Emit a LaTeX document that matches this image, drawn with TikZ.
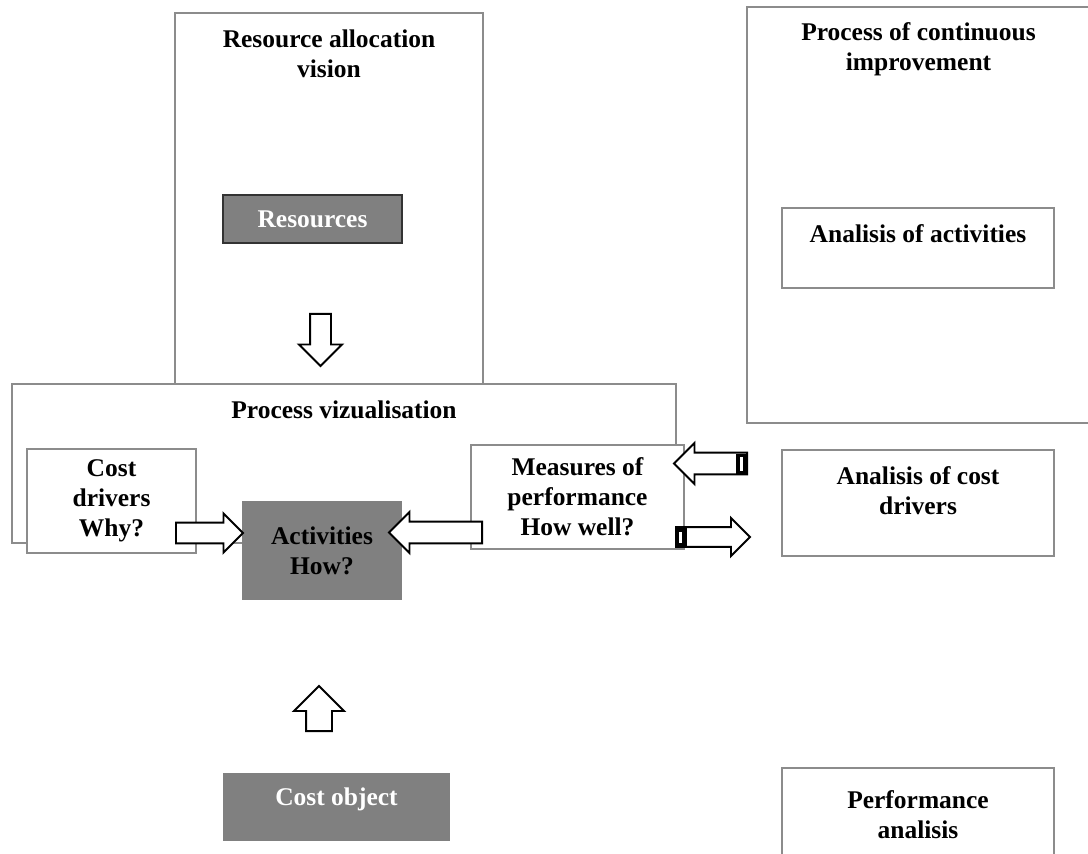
\documentclass[tikz,border=0pt]{standalone}
\usepackage{fontspec}
\setmainfont{Liberation Serif}
\usetikzlibrary{shapes,arrows,positioning,calc}

\tikzset{
  frame/.style={rectangle, draw=black!45, line width=1pt, fill=white, inner sep=0pt},
  darkbox/.style={rectangle, fill=gray, text=white, inner sep=0pt},
  title/.style={anchor=north, inner sep=0pt, align=center},
  blockarrow/.style={single arrow, draw=black, line width=1.1pt, fill=white, inner xsep=0pt, single arrow head indent=0pt, anchor=tail}
}

\begin{document}
\begin{tikzpicture}[x=0.02cm, y=-0.02cm, font=\fontsize{14.5}{17}\selectfont\bfseries]
\useasboundingbox (0,0) rectangle (1088,854);
\clip (0,0) rectangle (1088,854);
% left part
\node[frame, minimum width=6.16cm, minimum height=7.42cm] (vision) at (329,198.5) {};
\node[title] (visiontxt) at ($(vision.north)+(0,17)$) {Resource allocation\\vision};
\node[darkbox, draw=black!80, line width=1.2pt, minimum width=3.58cm, minimum height=0.96cm] (res) at (312.5,219) {Resources};
\node[frame, minimum width=13.28cm, minimum height=3.18cm] (proc) at (344,463.5) {};
\node[title] (proctxt) at ($(proc.north)+(0,17)$) {Process vizualisation};
\node[frame, align=center, minimum width=3.38cm, minimum height=2.08cm] (drivers) at (111.5,501) {Cost\\drivers\\Why?};
\node[frame, align=center, minimum width=4.26cm, minimum height=2.08cm] (measures) at (577.5,497) {Measures of\\performance\\How well?};
\node[darkbox, text=black, align=center, minimum width=3.2cm, minimum height=1.98cm] (act) at (322,550.5) {Activities\\How?};
\node[darkbox, minimum width=4.54cm, minimum height=1.36cm] (costobj) at (336.5,807) {};
\node[title, text=white] (costobjtxt) at ($(costobj.north)+(0,15)$) {Cost object};
% right part
\node[frame, minimum width=6.86cm, minimum height=8.32cm] (improv) at (918.5,215) {};
\node[title] (improvtxt) at ($(improv.north)+(0,16)$) {Process of continuous\\improvement};
\node[frame, minimum width=5.44cm, minimum height=1.6cm] (anact) at (918,248) {};
\node[title] (anacttxt) at ($(anact.north)+(0,17)$) {Analisis of activities};
\node[frame, minimum width=5.44cm, minimum height=2.12cm] (andrv) at (918,503) {};
\node[title] (andrvtxt) at ($(andrv.north)+(0,17)$) {Analisis of cost\\drivers};
\node[frame, minimum width=5.44cm, minimum height=2.24cm] (perf) at (918,824) {};
\node[title] (perftxt) at ($(perf.north)+(0,23)$) {Performance\\analisis};
% block arrows
\node[blockarrow, rotate=-90, minimum height=1.04cm, inner ysep=0.19cm, single arrow head extend=0.22cm] (down) at (320.5,313) {};
\node[blockarrow, rotate=90, minimum height=0.9cm, inner ysep=0.24cm, single arrow head extend=0.24cm] (up) at (319,732) {};
\node[blockarrow, minimum height=1.34cm, inner ysep=0.19cm, single arrow head extend=0.18cm] (drvarr) at (175,533) {};
\node[blockarrow, rotate=180, minimum height=1.86cm, inner ysep=0.2cm, single arrow head extend=0.19cm] (measarr) at (483,532.5) {};
\node[blockarrow, rotate=180, minimum height=1.46cm, inner ysep=0.2cm, single arrow head extend=0.19cm] (backarr) at (748,463.5) {};
\node[blockarrow, minimum height=1.48cm, inner ysep=0.18cm, single arrow head extend=0.18cm] (outarr) at (675,537) {};
% striped tails
\fill[black] (736,454) rectangle (748,474);
\fill[white] (739.5,457.5) rectangle (742.5,470.5);
\fill[black] (675,528) rectangle (687,546);
\fill[white] (679,531.5) rectangle (682,542.5);
\end{tikzpicture}
\end{document}
